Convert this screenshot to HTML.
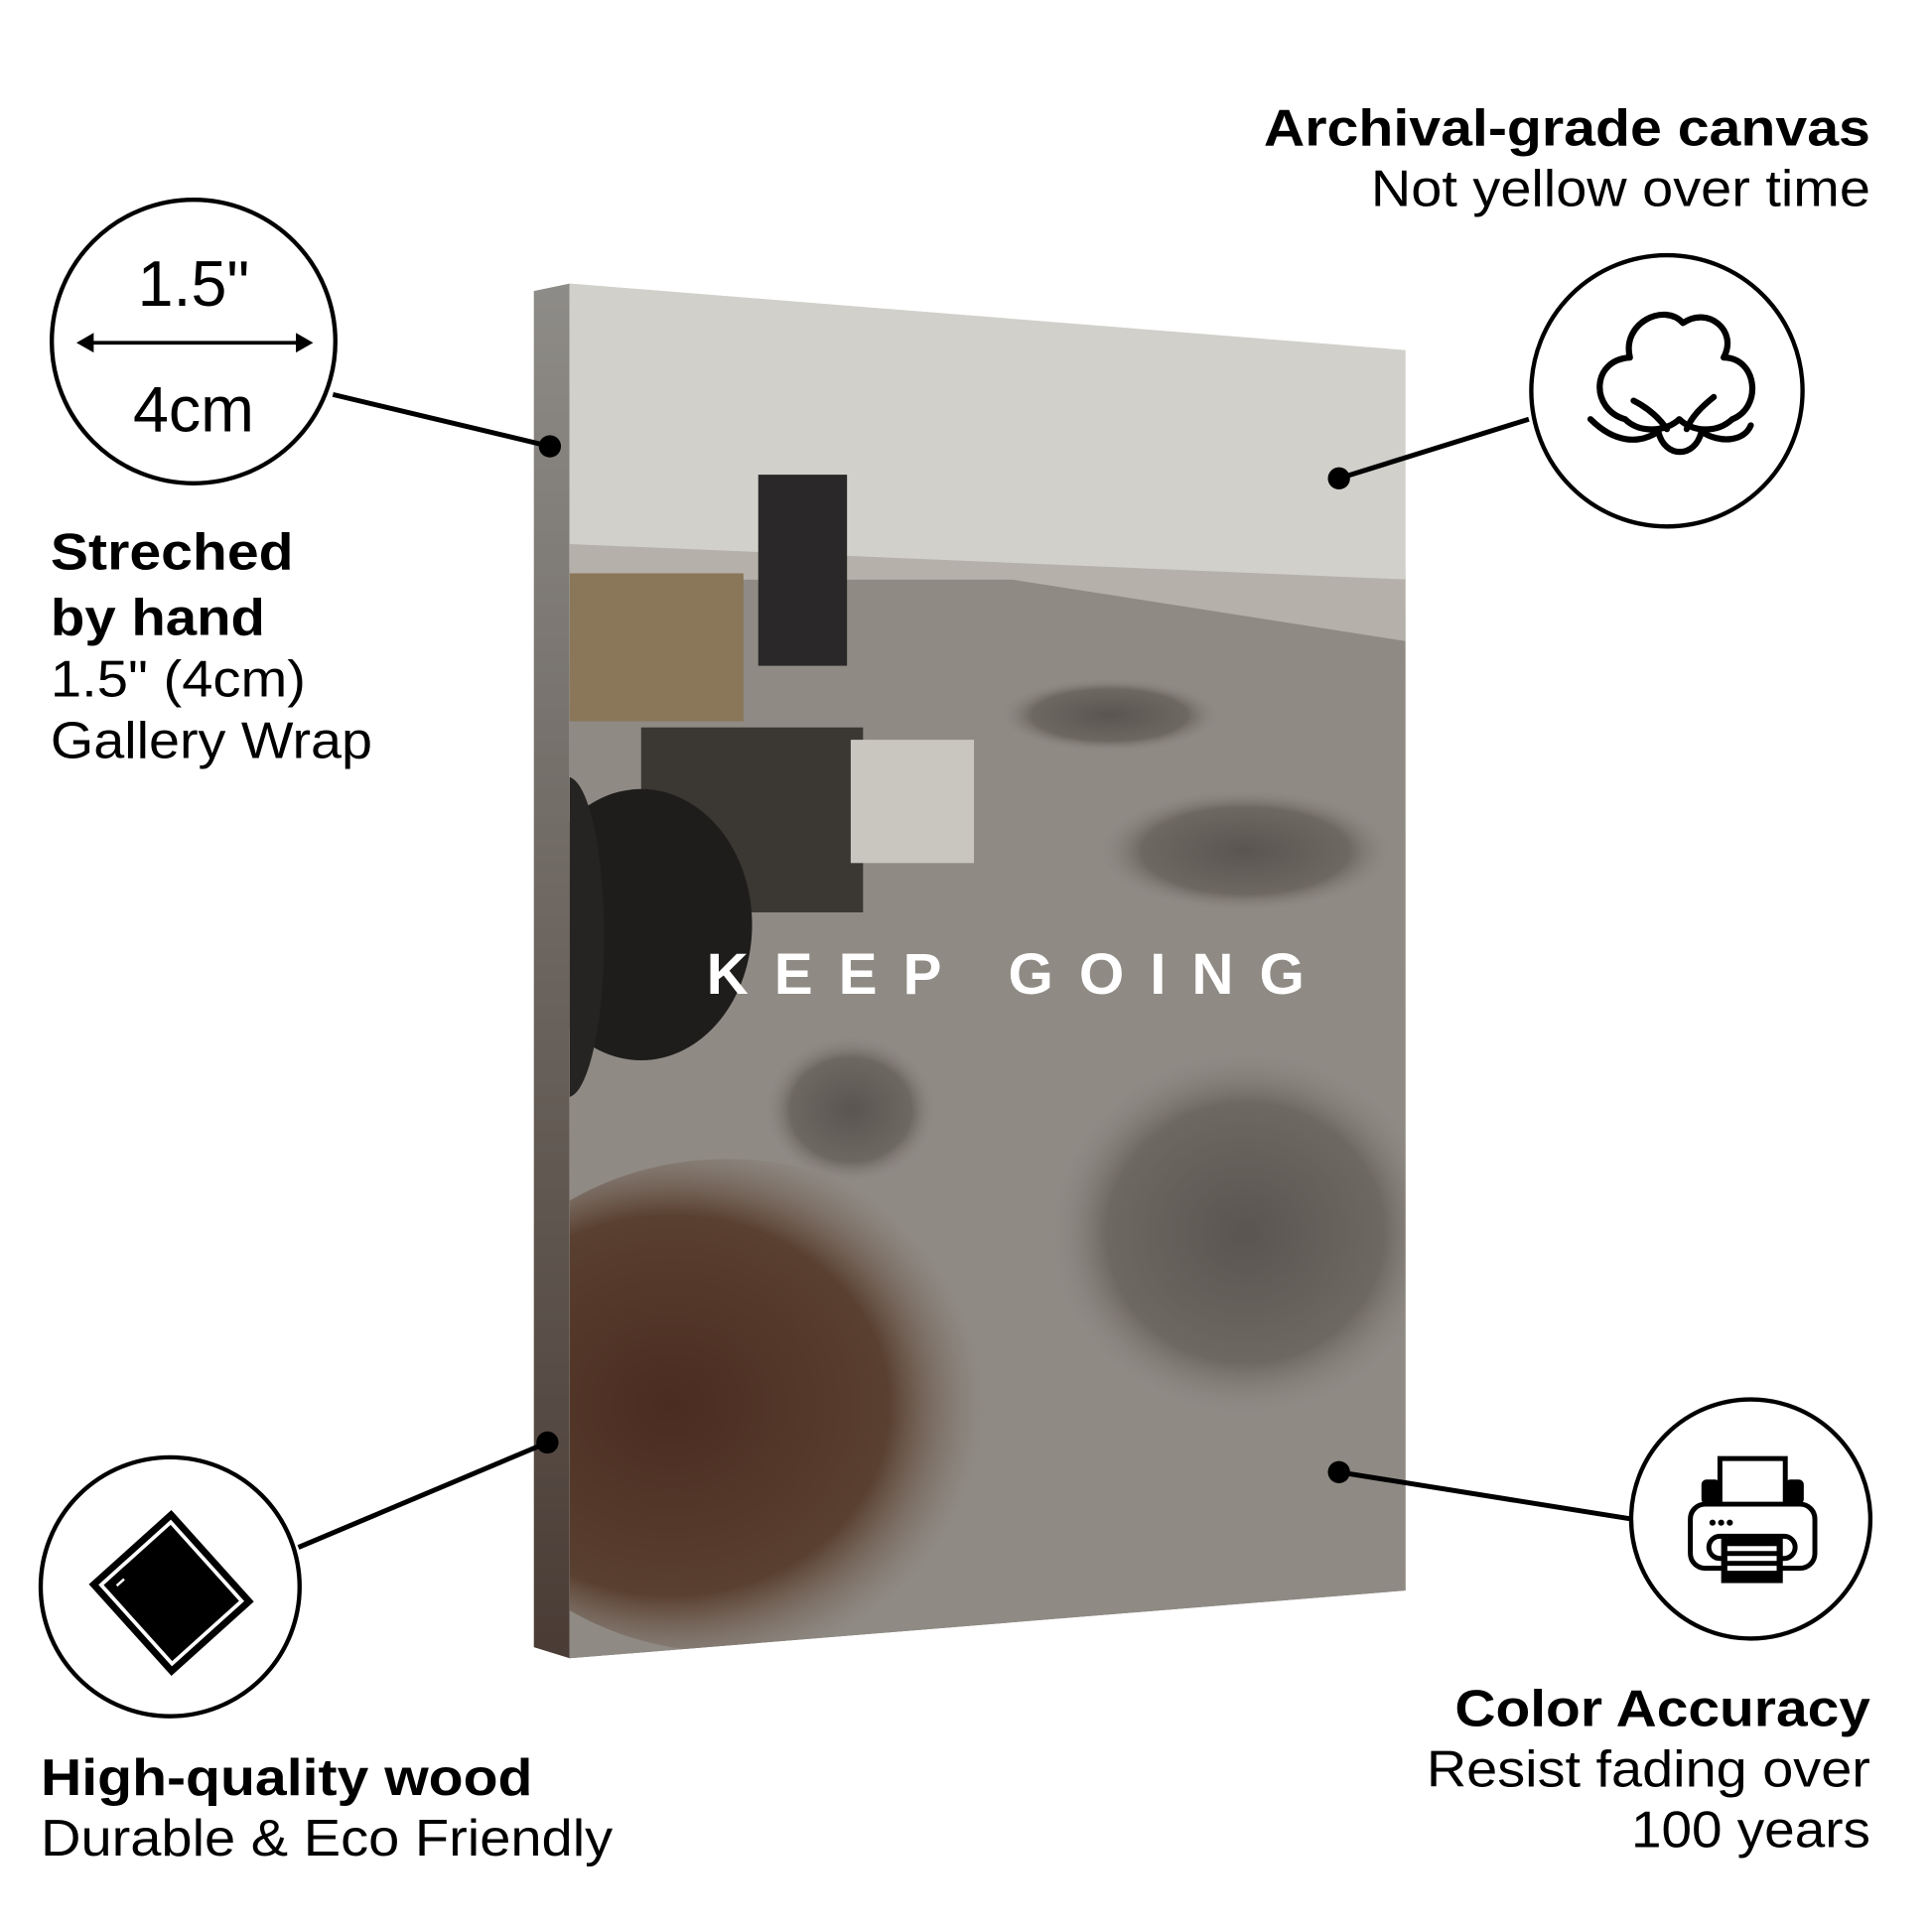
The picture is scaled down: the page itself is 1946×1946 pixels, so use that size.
<!DOCTYPE html>
<html><head><meta charset="utf-8"><style>
html,body{margin:0;padding:0;background:#fff}
svg{display:block}
text{font-family:"Liberation Sans",Arial,sans-serif;fill:#000}
</style></head><body>
<svg width="1946" height="1946" viewBox="0 0 1567 1567" xmlns="http://www.w3.org/2000/svg">
<defs>
<linearGradient id="face" x1="0" y1="0" x2="0" y2="1">
<stop offset="0" stop-color="#cfcdc8"/>
<stop offset="0.2" stop-color="#d6d4cf"/>
<stop offset="0.3" stop-color="#a9a39c"/>
<stop offset="0.55" stop-color="#958f88"/>
<stop offset="0.8" stop-color="#8a8079"/>
<stop offset="1" stop-color="#7a706a"/>
</linearGradient>
<linearGradient id="side" x1="0" y1="0" x2="0" y2="1">
<stop offset="0" stop-color="#8e8c88"/>
<stop offset="0.5" stop-color="#6b645e"/>
<stop offset="1" stop-color="#4a3c35"/>
</linearGradient>
<radialGradient id="pile" cx="0.5" cy="0.5" r="0.5">
<stop offset="0" stop-color="#5a5550"/><stop offset="0.7" stop-color="#6e6862"/><stop offset="1" stop-color="#8f8984" stop-opacity="0"/>
</radialGradient>
<radialGradient id="brown" cx="0.4" cy="0.5" r="0.55">
<stop offset="0" stop-color="#4a2c20"/><stop offset="0.7" stop-color="#5a4030"/><stop offset="1" stop-color="#7a6a60" stop-opacity="0"/>
</radialGradient>
<clipPath id="fc"><polygon points="462,230 1140,284 1140,1290 462,1345"/></clipPath>
</defs>
<polygon points="433,236 462,230 462,1345 433,1336" fill="url(#side)"/>
<polygon points="462,230 1140,284 1140,1290 462,1345" fill="url(#face)"/>
<g clip-path="url(#fc)">
<rect x="433" y="460" width="707" height="900" fill="#8f8a84"/>
<rect x="433" y="230" width="707" height="240" fill="#d2d0cb"/>
<path d="M433,470 L820,470 L1140,520 L1140,470 L433,440 Z" fill="#b5b0aa"/>
<rect x="433" y="465" width="170" height="120" fill="#8a7658"/>
<rect x="615" y="385" width="72" height="155" fill="#2a2828"/>
<rect x="520" y="590" width="180" height="150" fill="#3b3833"/>
<ellipse cx="520" cy="750" rx="90" ry="110" fill="#1f1d1c"/>
<ellipse cx="460" cy="760" rx="30" ry="130" fill="#262422"/>
<rect x="690" y="600" width="100" height="100" fill="#c9c5bf"/>
<ellipse cx="1010" cy="1000" rx="160" ry="150" fill="url(#pile)"/>
<ellipse cx="1010" cy="690" rx="120" ry="50" fill="url(#pile)"/>
<ellipse cx="690" cy="900" rx="70" ry="60" fill="url(#pile)"/>
<ellipse cx="590" cy="1140" rx="230" ry="200" fill="url(#brown)"/>
<ellipse cx="900" cy="580" rx="90" ry="30" fill="url(#pile)"/>
</g>
<text x="573" y="806" font-size="47" font-weight="bold" textLength="485" lengthAdjust="spacing" style="fill:#fff">KEEP GOING</text>

<g stroke="#000" stroke-width="4" fill="none">
<line x1="270" y1="320" x2="446" y2="362"/>
<line x1="1240" y1="340" x2="1086" y2="388"/>
<line x1="242" y1="1255" x2="444" y2="1170"/>
<line x1="1323" y1="1232" x2="1086" y2="1194"/>
</g>
<g fill="#000">
<circle cx="446" cy="362" r="9"/><circle cx="1086" cy="388" r="9"/>
<circle cx="444" cy="1170" r="9"/><circle cx="1086" cy="1194" r="9"/>
</g>

<g stroke="#000" stroke-width="3.5" fill="#fff">
<circle cx="157" cy="277" r="115"/>
<circle cx="1352" cy="317" r="110"/>
<circle cx="138" cy="1287" r="105"/>
<circle cx="1420" cy="1232" r="97"/>
</g>
<text x="157" y="248" text-anchor="middle" font-size="52">1.5"</text>
<text x="157" y="350" text-anchor="middle" font-size="52">4cm</text>
<line x1="72" y1="278" x2="244" y2="278" stroke="#000" stroke-width="3"/>
<polygon points="62,278 76,270 76,286" fill="#000"/>
<polygon points="254,278 240,270 240,286" fill="#000"/>

<g stroke="#000" stroke-width="5" fill="none" stroke-linejoin="round" stroke-linecap="round">
<path d="M1322,290 C1315,262 1350,245 1365,262 C1385,248 1410,268 1398,290 C1425,290 1430,330 1405,340 C1392,352 1372,350 1362,340 C1352,350 1330,352 1318,340 C1290,332 1290,292 1322,290 Z"/>
<path d="M1290,340 C1310,360 1330,360 1345,350 C1350,372 1375,372 1380,350 C1395,360 1415,358 1420,345"/>
<path d="M1325,325 C1335,330 1345,338 1352,348"/>
<path d="M1390,322 C1380,330 1372,338 1368,348"/>
</g>

<g transform="rotate(-42 139 1292)">
<rect x="94" y="1242" width="90" height="100" fill="#000"/>
<rect x="101" y="1249" width="76" height="86" fill="none" stroke="#fff" stroke-width="3"/>
<line x1="110" y1="1258" x2="118" y2="1258" stroke="#fff" stroke-width="2"/>
</g>

<g>
<rect x="1395" y="1183" width="53" height="42" fill="#fff" stroke="#000" stroke-width="4"/>
<rect x="1380" y="1200" width="15" height="20" rx="4" fill="#000"/>
<rect x="1448" y="1200" width="15" height="20" rx="4" fill="#000"/>
<rect x="1371" y="1220" width="101" height="52" rx="12" fill="#fff" stroke="#000" stroke-width="4"/>
<circle cx="1389" cy="1235" r="2.5" fill="#000"/><circle cx="1396" cy="1235" r="2.5" fill="#000"/><circle cx="1403" cy="1235" r="2.5" fill="#000"/>
<rect x="1386" y="1246" width="70" height="18" rx="9" fill="#fff" stroke="#000" stroke-width="4"/>
<rect x="1396" y="1246" width="50" height="38" fill="#000"/>
<rect x="1401" y="1254" width="40" height="4" fill="#fff"/>
<rect x="1401" y="1262" width="40" height="4" fill="#fff"/>
<rect x="1401" y="1270" width="40" height="4" fill="#fff"/>
</g>

<g font-size="42">
<text x="1025" y="118" font-weight="bold" textLength="492" lengthAdjust="spacingAndGlyphs">Archival-grade canvas</text>
<text x="1112" y="167" textLength="405" lengthAdjust="spacingAndGlyphs">Not yellow over time</text>
<text x="41" y="462" font-weight="bold" textLength="197" lengthAdjust="spacingAndGlyphs">Streched</text>
<text x="41" y="515" font-weight="bold" textLength="174" lengthAdjust="spacingAndGlyphs">by hand</text>
<text x="41" y="565" textLength="207" lengthAdjust="spacingAndGlyphs">1.5" (4cm)</text>
<text x="41" y="615" textLength="261" lengthAdjust="spacingAndGlyphs">Gallery Wrap</text>
<text x="33" y="1456" font-weight="bold" textLength="399" lengthAdjust="spacingAndGlyphs">High-quality wood</text>
<text x="33" y="1505" textLength="464" lengthAdjust="spacingAndGlyphs">Durable &amp; Eco Friendly</text>
<text x="1180" y="1400" font-weight="bold" textLength="337" lengthAdjust="spacingAndGlyphs">Color Accuracy</text>
<text x="1157" y="1449" textLength="360" lengthAdjust="spacingAndGlyphs">Resist fading over</text>
<text x="1323" y="1498" textLength="194" lengthAdjust="spacingAndGlyphs">100 years</text>
</g>
</svg>
</body></html>
